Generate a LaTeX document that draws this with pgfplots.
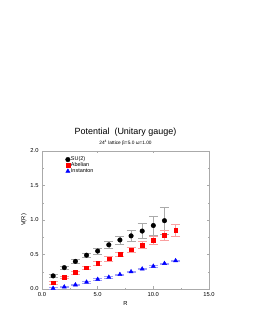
\documentclass[border=0pt]{standalone}
\usepackage{pgfplots}
\pgfplotsset{compat=1.18}
\usepackage{fontspec}
\setmainfont{Liberation Sans}
\definecolor{axgray}{RGB}{170,170,170}
\definecolor{errgray}{RGB}{170,170,170}
\definecolor{errred}{RGB}{250,160,160}
\definecolor{errblue}{RGB}{160,160,250}
\begin{document}
\begin{tikzpicture}
\useasboundingbox (0,0) rectangle (253bp,327bp);
\begin{axis}[
  at={(42bp,38bp)}, anchor=south west,
  scale only axis, width=167bp, height=138bp,
  xmin=0, xmax=15, ymin=0, ymax=2,
  xtick={0,5,10,15}, ytick={0,0.5,1,1.5,2},
  minor tick num=1,
  tick align=inside,
  axis line style={axgray, line width=0.4pt},
  every tick/.style={axgray, line width=0.4pt},
  major tick length=2.5bp, minor tick length=1.5bp,
  /pgf/number format/assume math mode=true,
  /pgf/number format/.cd, fixed, fixed zerofill, precision=1, /pgfplots/.cd,
  ticklabel style={font=\fontsize{5.8}{6}\selectfont},
  xlabel={R}, ylabel={V(R)},
  label style={font=\fontsize{5.8}{6}\selectfont},
  xlabel style={yshift=2bp},
  ylabel style={yshift=-3bp},
  legend style={draw=none, fill=none, at={(rel axis cs:0.14,0.965)}, anchor=north west,
    font=\fontsize{5.5}{6}\selectfont, inner sep=0pt, row sep=-1.2pt,
    nodes={inner sep=0.8pt}},
  legend cell align=left,
  clip=false,
]
\addplot+[only marks, mark=*, mark size=2.3bp, mark options={black, fill=black},
  error bars/.cd, y dir=both, y explicit,
  error bar style={errgray, line width=0.4pt},
  error mark options={rotate=90, mark size=4.5bp, errgray, line width=0.4pt}]
  coordinates {
  (1,0.19) +- (0,0.02)
  (2,0.31) +- (0,0.02)
  (3,0.40) +- (0,0.03)
  (4,0.49) +- (0,0.03)
  (5,0.55) +- (0,0.04)
  (6,0.64) +- (0,0.05)
  (7,0.71) +- (0,0.06)
  (8,0.77) +- (0,0.08)
  (9,0.84) +- (0,0.11)
  (10,0.92) +- (0,0.14)
  (11,0.99) +- (0,0.20)
  };
\addlegendentry{SU(2)}
\addplot+[only marks, mark=square*, mark size=1.9bp, mark options={red, fill=red},
  error bars/.cd, y dir=both, y explicit,
  error bar style={errred, line width=0.4pt},
  error mark options={rotate=90, mark size=4.5bp, errred, line width=0.4pt}]
  coordinates {
  (1,0.09) +- (0,0.02)
  (2,0.17) +- (0,0.02)
  (3,0.24) +- (0,0.02)
  (4,0.31) +- (0,0.02)
  (5,0.37) +- (0,0.03)
  (6,0.44) +- (0,0.03)
  (7,0.51) +- (0,0.03)
  (8,0.57) +- (0,0.04)
  (9,0.64) +- (0,0.05)
  (10,0.71) +- (0,0.06)
  (11,0.78) +- (0,0.07)
  (12,0.85) +- (0,0.09)
  };
\addlegendentry{Abelian}
\addplot+[only marks, mark=triangle*, mark size=2.4bp, mark options={blue, fill=blue},
  error bars/.cd, y dir=both, y explicit,
  error bar style={errblue, line width=0.4pt},
  error mark options={rotate=90, mark size=4.5bp, errblue, line width=0.4pt}]
  coordinates {
  (1,0.01) +- (0,0.01)
  (2,0.03) +- (0,0.01)
  (3,0.06) +- (0,0.01)
  (4,0.10) +- (0,0.01)
  (5,0.14) +- (0,0.01)
  (6,0.17) +- (0,0.01)
  (7,0.21) +- (0,0.01)
  (8,0.25) +- (0,0.01)
  (9,0.29) +- (0,0.01)
  (10,0.33) +- (0,0.01)
  (11,0.37) +- (0,0.01)
  (12,0.41) +- (0,0.01)
  };
\addlegendentry{Instanton}
\node[font=\fontsize{9}{10}\selectfont] at (rel axis cs:0.5,1) [yshift=19bp] {Potential\ \ (Unitary gauge)};
\node[font=\fontsize{4.8}{5}\selectfont] at (rel axis cs:0.5,1) [yshift=8bp] {24\textsuperscript{4} lattice β=5.0 ω=1.00};
\end{axis}
\end{tikzpicture}
\end{document}
